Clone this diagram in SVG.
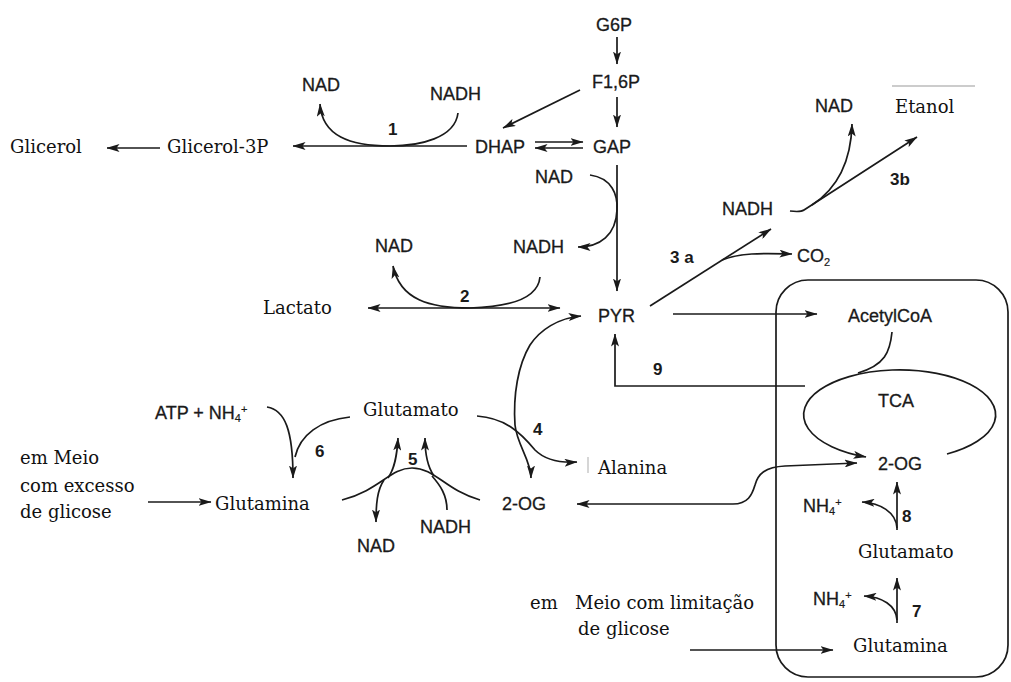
<svg xmlns="http://www.w3.org/2000/svg" width="1011" height="682" viewBox="0 0 1011 682">
  <style>
    .s { font-family: "Liberation Sans", Arial, sans-serif; font-size: 18px; fill: #1a1a1a; stroke: #1a1a1a; stroke-width: 0.3; }
    .n { font-family: "Liberation Sans", Arial, sans-serif; font-size: 17px; font-weight: bold; fill: #1a1a1a; }
    .r { font-family: "DejaVu Serif", "Liberation Serif", serif; font-size: 18px; fill: #111; }
    .sub { font-size: 11px; stroke-width: 0.2; }
    .ln { fill: none; stroke: #1a1a1a; stroke-width: 1.7; }
    .a { marker-end: url(#ah); }
    .aa { marker-start: url(#ah); marker-end: url(#ah); }
  </style>
  <defs>
    <marker id="ah" viewBox="0 0 13 8" refX="12.5" refY="4" markerWidth="13" markerHeight="8" orient="auto-start-reverse" markerUnits="userSpaceOnUse">
      <path d="M0,0 L13,4 L0,8 L3,4 z" fill="#1a1a1a"/>
    </marker>
  </defs>
  <rect width="1011" height="682" fill="#fff"/>

  <!-- mitochondrion -->
  <g id="mito">
    <rect x="776" y="280" width="232" height="397" rx="32" ry="32" class="ln"/>
  </g>

  <g id="connectors">
    <!-- glycolysis -->
    <path class="ln a" d="M617,37 L617,64"/>
    <path class="ln a" d="M617,97 L617,127"/>
    <path class="ln a" d="M580,90 L503,128"/>
    <path class="ln a" d="M535,142 L583,142"/>
    <path class="ln a" d="M583,148 L535,148"/>
    <path class="ln a" d="M617,165 L617,291"/>
    <path class="ln a" d="M590,175 C612,178 618,195 617,210 C616,235 600,247 578,247"/>
    <!-- reaction 1: glycerol -->
    <path class="ln a" d="M467,146 L293,146"/>
    <path class="ln a" d="M458,113 C455,138 420,146 390,146 C350,146 322,136 320,104"/>
    <path class="ln a" d="M160,148 L107,148"/>
    <!-- reaction 2: lactate -->
    <path class="ln aa" d="M368,308 L560,308"/>
    <path class="ln a" d="M540,277 C538,298 510,307 470,308 C430,308 400,300 393,266"/>
    <!-- reaction 3: ethanol -->
    <path class="ln a" d="M650,306 L771,229"/>
    <path class="ln a" d="M722,260 C740,253 760,253 792,254"/>
    <path class="ln a" d="M790,211 C798,212 801,212 804,210 L917,137"/>
    <path class="ln a" d="M812,205 C835,190 851,165 852,124"/>
    <path d="M892,86 L975,86" fill="none" stroke="#bbb" stroke-width="1.4"/>
    <!-- PYR to mitochondrion, reaction 9 -->
    <path class="ln a" d="M673,314 L817,314"/>
    <path class="ln a" d="M805,386 L615,386 L615,334"/>
    <!-- TCA cycle -->
    <path class="ln" d="M892,332 C890,352 885,365 858,373"/>
    <path class="ln a" d="M947,454 A96,45 0 1 0 866,457"/>
    <!-- 2-OG exchange -->
    <path class="ln aa" d="M577,504 L733,504 C748,504 752,495 755,485 C758,474 765,467 785,466 L857,463"/>
    <!-- reactions 8 and 7 -->
    <path class="ln a" d="M897,530 L897,482"/>
    <path class="ln a" d="M897,528 C896,512 880,503 862,502"/>
    <path class="ln a" d="M897,623 L897,578"/>
    <path class="ln a" d="M897,620 C896,605 882,597 864,596"/>
    <path class="ln a" d="M690,650 L833,650"/>
    <!-- reaction 4: alanine -->
    <path class="ln a" d="M477,416 C505,418 520,432 535,450 C545,460 560,463 577,462"/>
    <path class="ln aa" d="M531,478 C531,460 517,445 515,425 C513,395 518,365 530,345 C540,330 558,318 581,316"/>
    <path d="M588,457 L588,473" fill="none" stroke="#bbb" stroke-width="1.2"/>
    <!-- reaction 6 -->
    <path class="ln a" d="M267,407 C285,410 293,430 293,478"/>
    <path class="ln" d="M350,417 C320,420 300,435 295,457"/>
    <path class="ln a" d="M148,502 L211,502"/>
    <!-- reaction 5 -->
    <path class="ln" d="M342,500 C380,490 390,468 412,468 C435,468 445,490 480,500"/>
    <path class="ln a" d="M388,478 C395,468 397,455 398,438"/>
    <path class="ln a" d="M434,476 C427,466 425,452 425,438"/>
    <path class="ln a" d="M384,480 C377,490 376,505 376,522"/>
    <path class="ln" d="M447,510 C447,495 440,485 432,476"/>
  </g>

  <g id="n-g6p"><text class="s" x="614" y="31" text-anchor="middle">G6P</text></g>
  <g id="n-f16p"><text class="s" x="616" y="88" text-anchor="middle">F1,6P</text></g>
  <g id="n-dhap"><text class="s" x="475" y="153">DHAP</text></g>
  <g id="n-gap"><text class="s" x="593" y="153">GAP</text></g>
  <g id="n-nad1"><text class="s" x="302" y="91">NAD</text></g>
  <g id="n-nadh1"><text class="s" x="430" y="100">NADH</text></g>
  <g id="n-glicerol3p"><text class="r" x="167" y="153">Glicerol-3P</text></g>
  <g id="n-glicerol"><text class="r" x="10" y="153">Glicerol</text></g>
  <g id="n-nad-g"><text class="s" x="535" y="183">NAD</text></g>
  <g id="n-nadh-g"><text class="s" x="513" y="253">NADH</text></g>
  <g id="n-nad2"><text class="s" x="375" y="252">NAD</text></g>
  <g id="n-lactato"><text class="r" x="263" y="314">Lactato</text></g>
  <g id="n-pyr"><text class="s" x="598" y="322">PYR</text></g>
  <g id="n-nadh3"><text class="s" x="722" y="215">NADH</text></g>
  <g id="n-nad3"><text class="s" x="815" y="112">NAD</text></g>
  <g id="n-etanol"><text class="r" x="895" y="113">Etanol</text></g>
  <g id="n-co2"><text class="s" x="797" y="262">CO<tspan class="sub" dy="4">2</tspan></text></g>
  <g id="n-acetylcoa"><text class="s" x="848" y="322">AcetylCoA</text></g>
  <g id="n-tca"><text class="s" x="878" y="407">TCA</text></g>
  <g id="n-2og-m"><text class="s" x="878" y="470">2-OG</text></g>
  <g id="n-nh4-8"><text class="s" x="803" y="512">NH<tspan class="sub" dy="3">4</tspan><tspan class="sub" dy="-9">+</tspan></text></g>
  <g id="n-glutamato-m"><text class="r" x="858" y="558">Glutamato</text></g>
  <g id="n-nh4-7"><text class="s" x="813" y="605">NH<tspan class="sub" dy="3">4</tspan><tspan class="sub" dy="-9">+</tspan></text></g>
  <g id="n-glutamina-m"><text class="r" x="853" y="652">Glutamina</text></g>
  <g id="n-meio-lim"><text class="r" x="530" y="609">em<tspan x="575">Meio com limitação</tspan></text><text class="r" x="578" y="635">de glicose</text></g>
  <g id="n-glutamato"><text class="r" x="363" y="416">Glutamato</text></g>
  <g id="n-alanina"><text class="r" x="598" y="474">Alanina</text></g>
  <g id="n-2og"><text class="s" x="502" y="510">2-OG</text></g>
  <g id="n-atp"><text class="s" x="155" y="419">ATP + NH<tspan class="sub" dy="3">4</tspan><tspan class="sub" dy="-9">+</tspan></text></g>
  <g id="n-glutamina"><text class="r" x="215" y="510">Glutamina</text></g>
  <g id="n-meio-exc"><text class="r" x="20" y="464">em Meio</text><text class="r" x="20" y="492">com excesso</text><text class="r" x="20" y="518">de glicose</text></g>
  <g id="n-nad5"><text class="s" x="357" y="552">NAD</text></g>
  <g id="n-nadh5"><text class="s" x="420" y="533">NADH</text></g>

  <g id="labels">
    <text class="n" x="388" y="135">1</text>
    <text class="n" x="460" y="302">2</text>
    <text class="n" x="670" y="263">3 a</text>
    <text class="n" x="890" y="185">3b</text>
    <text class="n" x="533" y="435">4</text>
    <text class="n" x="408" y="465">5</text>
    <text class="n" x="315" y="457">6</text>
    <text class="n" x="912" y="617">7</text>
    <text class="n" x="902" y="522">8</text>
    <text class="n" x="653" y="375">9</text>
  </g>
</svg>
